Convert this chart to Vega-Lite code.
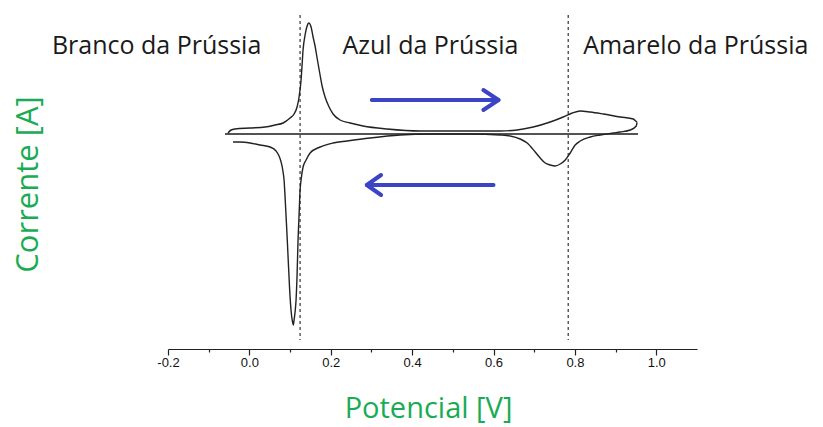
{
  "$schema": "https://vega.github.io/schema/vega-lite/v6.json",
  "width": 529,
  "height": 339,
  "autosize": {"type": "none"},
  "padding": {"left": 168, "top": 10, "right": 126, "bottom": 78},
  "background": "white",
  "config": {"view": {"stroke": null}, "font": "Open Sans"},
  "datasets": {
    "cv": [
      {"i": 1, "V": -0.0525, "I": 0.1},
      {"i": 2, "V": -0.0451, "I": 0.4},
      {"i": 3, "V": -0.0353, "I": 0.5},
      {"i": 4, "V": 0.0016, "I": 0.6},
      {"i": 5, "V": 0.0385, "I": 0.7},
      {"i": 6, "V": 0.0631, "I": 0.9},
      {"i": 7, "V": 0.0828, "I": 1.1},
      {"i": 8, "V": 0.1, "I": 1.6},
      {"i": 9, "V": 0.1098, "I": 2.0},
      {"i": 10, "V": 0.1172, "I": 2.7},
      {"i": 11, "V": 0.1221, "I": 3.7},
      {"i": 12, "V": 0.127, "I": 5.4},
      {"i": 13, "V": 0.1295, "I": 6.9},
      {"i": 14, "V": 0.1319, "I": 8.4},
      {"i": 15, "V": 0.1369, "I": 9.9},
      {"i": 16, "V": 0.1418, "I": 10.8},
      {"i": 17, "V": 0.146, "I": 11.1},
      {"i": 18, "V": 0.1516, "I": 10.7},
      {"i": 19, "V": 0.1565, "I": 9.7},
      {"i": 20, "V": 0.1614, "I": 8.8},
      {"i": 21, "V": 0.1664, "I": 7.6},
      {"i": 22, "V": 0.1737, "I": 5.9},
      {"i": 23, "V": 0.1787, "I": 4.8},
      {"i": 24, "V": 0.186, "I": 3.7},
      {"i": 25, "V": 0.1959, "I": 2.7},
      {"i": 26, "V": 0.2057, "I": 2.0},
      {"i": 27, "V": 0.2229, "I": 1.4},
      {"i": 28, "V": 0.2475, "I": 1.1},
      {"i": 29, "V": 0.2795, "I": 0.8},
      {"i": 30, "V": 0.3385, "I": 0.5},
      {"i": 31, "V": 0.4196, "I": 0.3},
      {"i": 32, "V": 0.518, "I": 0.3},
      {"i": 33, "V": 0.6163, "I": 0.3},
      {"i": 34, "V": 0.6581, "I": 0.4},
      {"i": 35, "V": 0.6975, "I": 0.7},
      {"i": 36, "V": 0.7393, "I": 1.2},
      {"i": 37, "V": 0.7712, "I": 1.7},
      {"i": 38, "V": 0.7934, "I": 2.1},
      {"i": 39, "V": 0.813, "I": 2.3},
      {"i": 40, "V": 0.8376, "I": 2.2},
      {"i": 41, "V": 0.8696, "I": 2.0},
      {"i": 42, "V": 0.9114, "I": 1.7},
      {"i": 43, "V": 0.9434, "I": 1.5},
      {"i": 44, "V": 0.9532, "I": 1.2},
      {"i": 45, "V": 0.9507, "I": 0.8},
      {"i": 46, "V": 0.936, "I": 0.4},
      {"i": 47, "V": 0.9114, "I": 0.2},
      {"i": 48, "V": 0.8942, "I": 0.1},
      {"i": 49, "V": 0.8622, "I": -0.1},
      {"i": 50, "V": 0.8376, "I": -0.3},
      {"i": 51, "V": 0.813, "I": -0.7},
      {"i": 52, "V": 0.8007, "I": -1.1},
      {"i": 53, "V": 0.7884, "I": -1.9},
      {"i": 54, "V": 0.7762, "I": -2.6},
      {"i": 55, "V": 0.7639, "I": -3.0},
      {"i": 56, "V": 0.7516, "I": -3.2},
      {"i": 57, "V": 0.7393, "I": -3.1},
      {"i": 58, "V": 0.727, "I": -2.9},
      {"i": 59, "V": 0.7147, "I": -2.4},
      {"i": 60, "V": 0.7024, "I": -1.8},
      {"i": 61, "V": 0.6827, "I": -0.9},
      {"i": 62, "V": 0.6655, "I": -0.5},
      {"i": 63, "V": 0.6409, "I": -0.2},
      {"i": 64, "V": 0.6163, "I": -0.1},
      {"i": 65, "V": 0.5426, "I": 0.0},
      {"i": 66, "V": 0.4688, "I": 0.0},
      {"i": 67, "V": 0.4442, "I": 0.0},
      {"i": 68, "V": 0.3704, "I": -0.1},
      {"i": 69, "V": 0.2967, "I": -0.4},
      {"i": 70, "V": 0.2401, "I": -0.7},
      {"i": 71, "V": 0.2057, "I": -0.9},
      {"i": 72, "V": 0.1737, "I": -1.3},
      {"i": 73, "V": 0.1492, "I": -1.9},
      {"i": 74, "V": 0.1393, "I": -2.6},
      {"i": 75, "V": 0.1319, "I": -3.3},
      {"i": 76, "V": 0.127, "I": -4.6},
      {"i": 77, "V": 0.1246, "I": -5.6},
      {"i": 78, "V": 0.1221, "I": -8.1},
      {"i": 79, "V": 0.1196, "I": -10.6},
      {"i": 80, "V": 0.1172, "I": -14.1},
      {"i": 81, "V": 0.1147, "I": -16.6},
      {"i": 82, "V": 0.1123, "I": -17.8},
      {"i": 83, "V": 0.1098, "I": -18.6},
      {"i": 84, "V": 0.1081, "I": -19.1},
      {"i": 85, "V": 0.1061, "I": -18.8},
      {"i": 86, "V": 0.1041, "I": -18.3},
      {"i": 87, "V": 0.1, "I": -16.3},
      {"i": 88, "V": 0.0958, "I": -12.9},
      {"i": 89, "V": 0.0919, "I": -9.6},
      {"i": 90, "V": 0.0877, "I": -6.3},
      {"i": 91, "V": 0.0852, "I": -4.6},
      {"i": 92, "V": 0.0828, "I": -3.8},
      {"i": 93, "V": 0.0779, "I": -2.8},
      {"i": 94, "V": 0.0729, "I": -2.2},
      {"i": 95, "V": 0.0656, "I": -1.7},
      {"i": 96, "V": 0.0508, "I": -1.3},
      {"i": 97, "V": 0.0262, "I": -1.1},
      {"i": 98, "V": 0.0016, "I": -0.9},
      {"i": 99, "V": -0.023, "I": -0.8},
      {"i": 100, "V": -0.0402, "I": -0.8}
    ],
    "zero": [
      {"i": 1, "V": -0.06, "I": 0.0},
      {"i": 2, "V": 0.955, "I": 0.0}
    ],
    "dashes": [
      {"V": 0.1246, "I": 11.9, "I2": -20.6},
      {"V": 0.7835, "I": 11.9, "I2": -20.6}
    ],
    "arrows": [
      {"id": "fwd_shaft", "i": 1, "V": 0.3008, "I": 3.4},
      {"id": "fwd_shaft", "i": 2, "V": 0.6122, "I": 3.4},
      {"id": "fwd_head", "i": 1, "V": 0.575, "I": 4.4},
      {"id": "fwd_head", "i": 2, "V": 0.6122, "I": 3.4},
      {"id": "fwd_head", "i": 3, "V": 0.575, "I": 2.4},
      {"id": "rev_shaft", "i": 1, "V": 0.5999, "I": -5.1},
      {"id": "rev_shaft", "i": 2, "V": 0.2886, "I": -5.1},
      {"id": "rev_head", "i": 1, "V": 0.3236, "I": -4.1},
      {"id": "rev_head", "i": 2, "V": 0.2886, "I": -5.1},
      {"id": "rev_head", "i": 3, "V": 0.3236, "I": -6.1}
    ],
    "labels": [
      {"label": "Branco da Prússia", "V": -0.228, "I": 8.8},
      {"label": "Azul da Prússia", "V": 0.445, "I": 8.8},
      {"label": "Amarelo da Prússia", "V": 1.097, "I": 8.8}
    ]
  },
  "encoding": {
    "x": {
      "field": "V",
      "type": "quantitative",
      "scale": {"domain": [-0.2, 1.1], "nice": false, "zero": false},
      "axis": {
        "title": "Potencial [V]",
        "values": [-0.2, -0.1, 0, 0.1, 0.2, 0.3, 0.4, 0.5, 0.6, 0.7, 0.8, 0.9, 1.0],
        "labelExpr": "round(datum.value*10) % 2 == 0 ? (datum.value < 0 ? '-' : '') + format(abs(datum.value), '.1f') : ''",
        "grid": false,
        "domainColor": "#222222",
        "domainWidth": 1.2,
        "tickColor": "#222222",
        "tickWidth": 1.2,
        "tickSize": {"condition": {"test": "round(datum.value*10) % 2 != 0", "value": 3}, "value": 6},
        "labelFont": "Liberation Sans",
        "labelFontSize": 13,
        "labelColor": "#111111",
        "labelPadding": 1,
        "labelFlush": false,
        "titleFont": "Open Sans",
        "titleFontSize": 29,
        "titleFontWeight": "normal",
        "titleColor": "#1aab55",
        "titleX": 260,
        "titleY": 68,
        "titleBaseline": "alphabetic",
        "titleAlign": "center"
      }
    },
    "y": {
      "field": "I",
      "type": "quantitative",
      "scale": {"domain": [-21.5, 12.4], "nice": false, "zero": false},
      "axis": {
        "title": "Corrente [A]",
        "domain": false,
        "ticks": false,
        "labels": false,
        "grid": false,
        "titleFont": "Open Sans",
        "titleFontSize": 31,
        "titleFontWeight": "normal",
        "titleColor": "#1aab55",
        "titleAngle": -90,
        "titleX": -131,
        "titleY": 174,
        "titleAlign": "center",
        "titleBaseline": "alphabetic"
      }
    }
  },
  "layer": [
    {
      "data": {"name": "dashes"},
      "mark": {"type": "rule", "color": "#333333", "strokeWidth": 1.2, "strokeDash": [3, 3]},
      "encoding": {"y2": {"field": "I2"}}
    },
    {
      "data": {"name": "zero"},
      "mark": {"type": "line", "color": "#1a1a1a", "strokeWidth": 1.3},
      "encoding": {"order": {"field": "i"}}
    },
    {
      "data": {"name": "cv"},
      "mark": {"type": "line", "color": "#222222", "strokeWidth": 1.4, "interpolate": "monotone"},
      "encoding": {"order": {"field": "i"}}
    },
    {
      "data": {"name": "arrows"},
      "mark": {"type": "line", "color": "#3b44c4", "strokeWidth": 4, "strokeCap": "round", "strokeJoin": "round"},
      "encoding": {"detail": {"field": "id"}, "order": {"field": "i"}}
    },
    {
      "data": {"name": "labels"},
      "mark": {"type": "text", "font": "Open Sans", "fontSize": 25, "color": "#1a1a1a", "align": "center", "baseline": "middle"},
      "encoding": {"text": {"field": "label"}}
    }
  ]
}
